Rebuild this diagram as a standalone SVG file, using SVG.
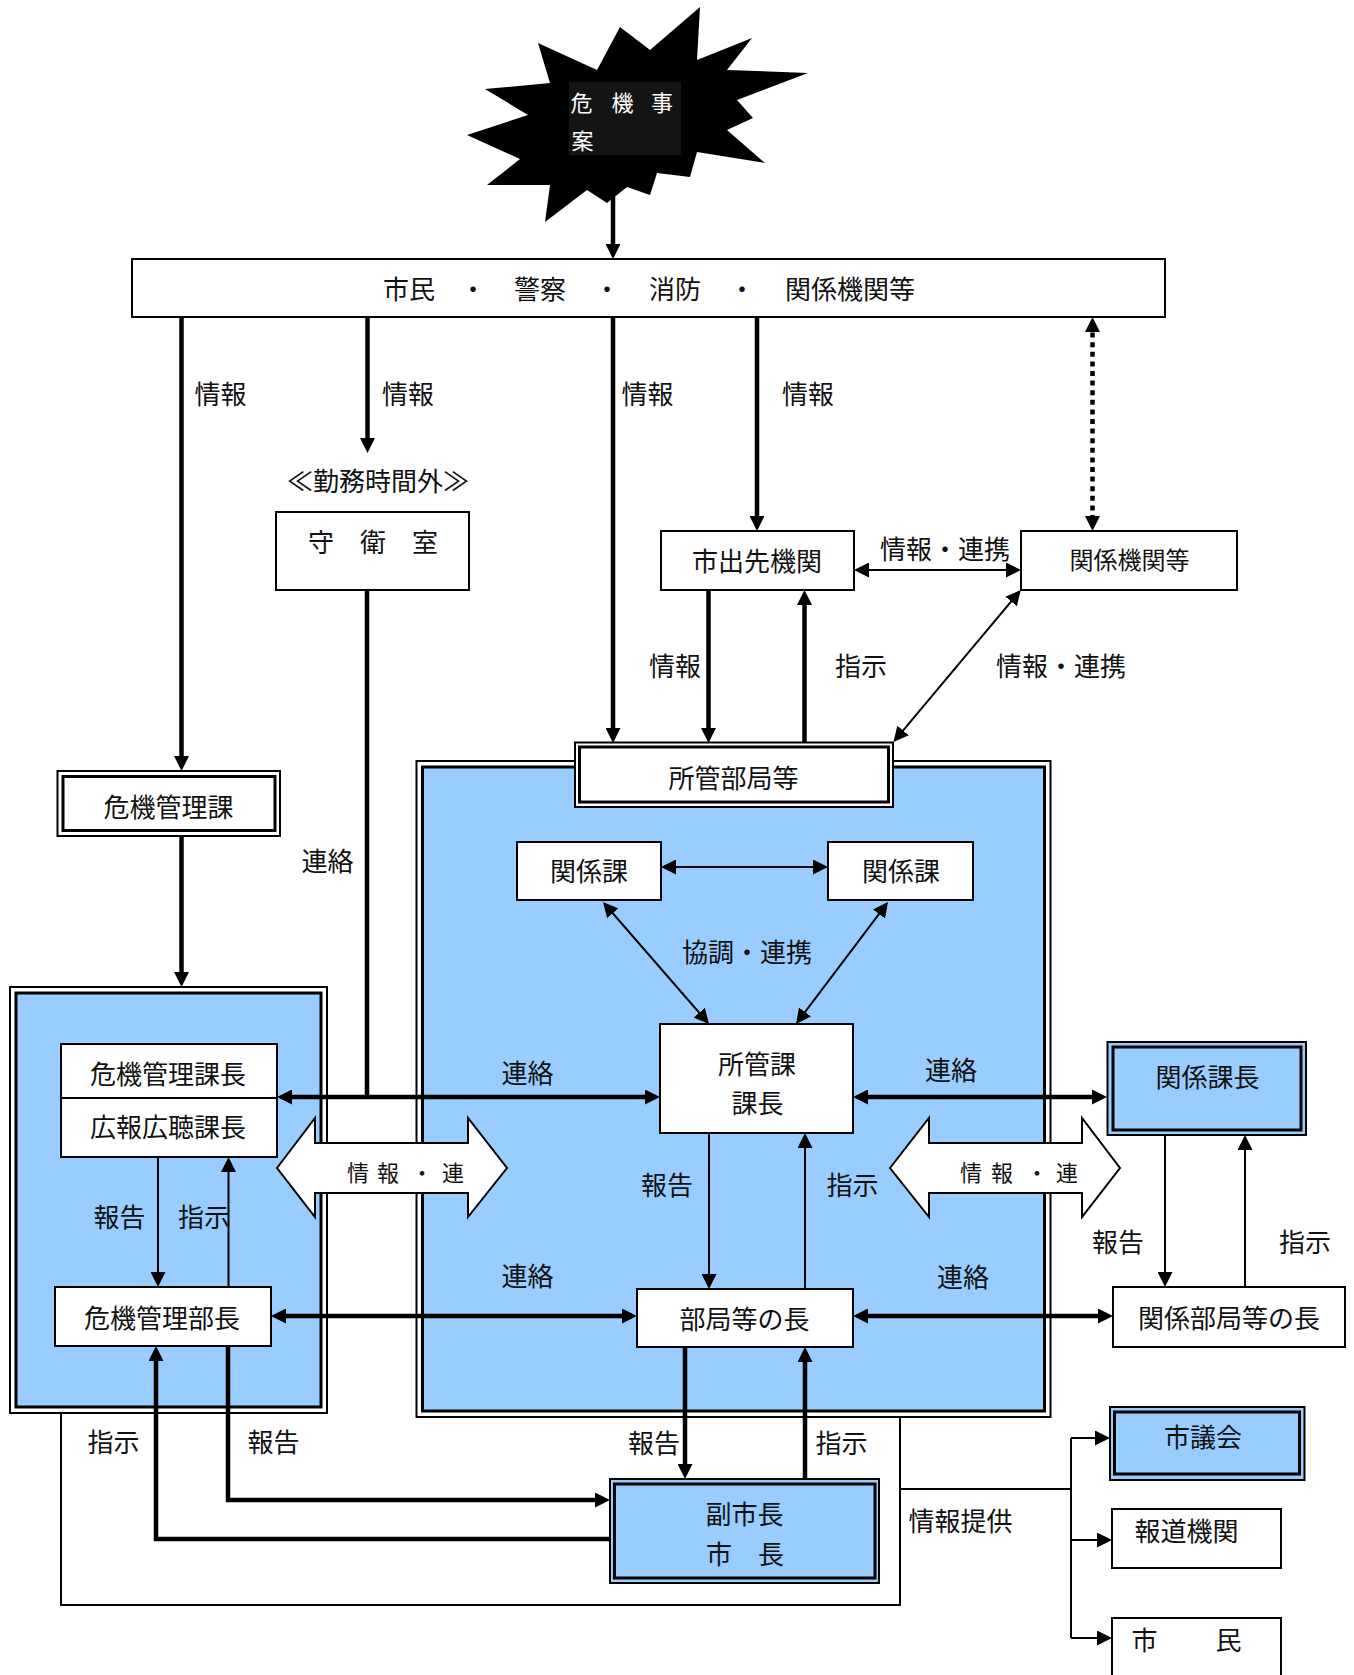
<svg xmlns="http://www.w3.org/2000/svg" width="1354" height="1675" viewBox="0 0 1354 1675">
<style>
.t{font-family:"Noto Sans CJK JP","Noto Sans",sans-serif;font-size:26px;fill:#111;text-anchor:middle;dominant-baseline:central;transform:translateY(-2.5px)}
.s{font-size:24px}
.b{font-size:22px}
.w{fill:#fff;font-size:22px}
.box{fill:#fff;stroke:#000;stroke-width:2}
.o{fill:#fff;stroke:#000;stroke-width:2}
.ib{fill:#99CCFF;stroke:#000;stroke-width:3}
.iw{fill:#fff;stroke:#000;stroke-width:3}
.ob{fill:#99CCFF;stroke:#000;stroke-width:2}
.k{fill:none;stroke:#000;stroke-width:4.5}
.n{fill:none;stroke:#000;stroke-width:2}
.ba{fill:#fff;stroke:#000;stroke-width:2}
</style>
<defs>
<marker id="ah" viewBox="0 0 15 15" refX="9" refY="7.5" markerWidth="15" markerHeight="15" markerUnits="userSpaceOnUse" orient="auto-start-reverse"><path d="M0,0 L15,7.5 L0,15 z" fill="#000"/></marker>
</defs>

<!-- frames -->
<g id="frame-left">
<rect class="o" x="10" y="987" width="317" height="426"/>
<rect class="ib" x="16" y="993" width="305" height="414" stroke-width="2.5"/>
</g>
<g id="frame-center">
<rect class="o" x="416.5" y="761" width="634" height="656"/>
<rect class="ib" x="422.5" y="767" width="622" height="644" stroke-width="2.5"/>
</g>

<!-- crisis starburst -->
<g id="crisis">
<polygon fill="#000" points="700,7 697,60 752,38 727,70 808,73 737,100 753,118 727,130 765,163 697,152 690,177 657,173 650,195 627,187 607,203 587,190 545,222 550,185 487,185 520,159 467,135 528,115 485,89 550,83 538,43 597,70 620,27 650,50"/>
<rect x="569" y="82" width="112" height="73" fill="#141414"/>
<text class="t w" x="581.5" y="103">危</text>
<text class="t w" x="622.5" y="103">機</text>
<text class="t w" x="662" y="103">事</text>
<text class="t w" x="582.5" y="141">案</text>
</g>

<g id="top-bar">
<rect class="box" x="132" y="259" width="1033" height="58"/>
<text class="t" x="409" y="290">市民</text>
<text class="t" x="473" y="290">・</text>
<text class="t" x="540" y="290">警察</text>
<text class="t" x="607" y="290">・</text>
<text class="t" x="675" y="290">消防</text>
<text class="t" x="742" y="290">・</text>
<text class="t" x="850" y="290">関係機関等</text>
</g>

<g id="off-hours">
<text class="t" x="378" y="481.5">≪勤務時間外≫</text>
</g>
<g id="guard-room">
<rect class="box" x="276" y="512" width="193" height="78"/>
<text class="t" x="373" y="543">守　衛　室</text>
</g>
<g id="branch-office">
<rect class="box" x="661" y="531" width="193" height="59"/>
<text class="t" x="757" y="561.5">市出先機関</text>
</g>
<g id="related-agencies">
<rect class="box" x="1021" y="531" width="216" height="59"/>
<text class="t s" x="1129.5" y="561">関係機関等</text>
</g>
<g id="crisis-section">
<rect class="o" x="57.5" y="771" width="222.5" height="65"/>
<rect class="iw" x="63" y="776.5" width="212" height="54"/>
<text class="t" x="168.5" y="808">危機管理課</text>
</g>
<g id="dept">
<rect class="o" x="575" y="742.5" width="318" height="64.5"/>
<rect class="iw" x="579.5" y="747" width="309" height="55"/>
<text class="t" x="733.5" y="779">所管部局等</text>
</g>
<g id="rel-section-left">
<rect class="box" x="517" y="842" width="144" height="58"/>
<text class="t" x="589" y="871.5">関係課</text>
</g>
<g id="rel-section-right">
<rect class="box" x="828" y="842" width="145" height="58"/>
<text class="t" x="901" y="871.5">関係課</text>
</g>
<g id="section-chief">
<rect class="box" x="660" y="1024" width="193" height="109"/>
<text class="t" x="757" y="1065">所管課</text>
<text class="t" x="757.5" y="1103.5">課長</text>
</g>
<g id="crisis-chiefs">
<rect class="box" x="61" y="1044" width="216" height="113"/>
<line x1="61" y1="1098" x2="277" y2="1098" stroke="#000" stroke-width="2"/>
<text class="t" x="168" y="1074.5">危機管理課長</text>
<text class="t" x="168" y="1128">広報広聴課長</text>
</g>
<g id="rel-chief">
<rect class="ob" x="1107.5" y="1042" width="198.5" height="93"/>
<rect class="ib" x="1113" y="1047" width="188" height="83"/>
<text class="t" x="1207.5" y="1078">関係課長</text>
</g>
<g id="crisis-director">
<rect class="box" x="55" y="1287" width="216" height="59"/>
<text class="t" x="162" y="1318.5">危機管理部長</text>
</g>
<g id="dept-head">
<rect class="box" x="637" y="1289" width="216" height="58"/>
<text class="t" x="744.5" y="1320">部局等の長</text>
</g>
<g id="rel-dept-head">
<rect class="box" x="1113" y="1287" width="232" height="60"/>
<text class="t" x="1229" y="1319">関係部局等の長</text>
</g>
<g id="mayor">
<rect class="ob" x="610" y="1479" width="269" height="104"/>
<rect class="ib" x="614.5" y="1484" width="260.5" height="94"/>
<text class="t" x="744.5" y="1515">副市長</text>
<text class="t" x="706" y="1555" style="text-anchor:start">市　長</text>
</g>
<g id="council">
<rect class="ob" x="1110" y="1407" width="194.5" height="73"/>
<rect class="ib" x="1114.5" y="1412" width="185" height="62"/>
<text class="t" x="1203" y="1437.5">市議会</text>
</g>
<g id="press">
<rect class="box" x="1112" y="1509" width="169" height="59"/>
<text class="t" x="1186.5" y="1531.5">報道機関</text>
</g>
<g id="citizens">
<rect class="box" x="1112" y="1618" width="169" height="70"/>
<text class="t" x="1144.5" y="1641">市</text>
<text class="t" x="1228.5" y="1641">民</text>
</g>

<!-- connectors -->
<g id="connectors">
<path class="k" d="M613 195 V253" marker-end="url(#ah)"/>
<path class="k" d="M181.5 317 V765" marker-end="url(#ah)"/>
<path class="k" d="M367.5 317 V447" marker-end="url(#ah)"/>
<path class="k" d="M613 317 V737" marker-end="url(#ah)"/>
<path class="k" d="M757 317 V525" marker-end="url(#ah)"/>
<path d="M1092.5 323 V525" fill="none" stroke="#000" stroke-width="4.5" stroke-dasharray="5 4.6" marker-start="url(#ah)" marker-end="url(#ah)"/>
<path class="n" d="M860 570 H1015" stroke-width="2.5" marker-start="url(#ah)" marker-end="url(#ah)"/>
<path class="k" d="M708.5 590 V737" marker-end="url(#ah)"/>
<path class="k" d="M804.5 743 V596" marker-end="url(#ah)"/>
<path class="n" d="M1016.9 594.6 L897.3 737.4" marker-start="url(#ah)" marker-end="url(#ah)"/>
<path class="k" d="M367 590 V1097"/>
<path class="k" d="M181.5 836 V981" marker-end="url(#ah)"/>
<path class="n" d="M667 867 H822" marker-start="url(#ah)" marker-end="url(#ah)"/>
<path class="n" d="M606.9 906.5 L705.1 1019.5" marker-start="url(#ah)" marker-end="url(#ah)"/>
<path class="n" d="M884.4 906.8 L799.6 1019.2" marker-start="url(#ah)" marker-end="url(#ah)"/>
<path class="k" d="M283 1097 H654" marker-start="url(#ah)" marker-end="url(#ah)"/>
<path class="k" d="M859 1097 H1101" marker-start="url(#ah)" marker-end="url(#ah)"/>
<path class="n" d="M709 1133 V1283" marker-end="url(#ah)"/>
<path class="n" d="M805 1289 V1139" marker-end="url(#ah)"/>
<path class="n" d="M1165 1135 V1281" marker-end="url(#ah)"/>
<path class="n" d="M1245 1287 V1141" marker-end="url(#ah)"/>
<path class="n" d="M158 1157 V1281" marker-end="url(#ah)"/>
<path class="n" d="M228.5 1287 V1163" marker-end="url(#ah)"/>
<path class="k" d="M277 1316 H631" marker-start="url(#ah)" marker-end="url(#ah)"/>
<path class="k" d="M859 1316 H1107" marker-start="url(#ah)" marker-end="url(#ah)"/>
<path class="k" d="M685 1347 V1473" marker-end="url(#ah)"/>
<path class="k" d="M805 1479 V1353" marker-end="url(#ah)"/>
<path class="k" d="M228 1346 V1500 H604" marker-end="url(#ah)"/>
<path class="k" d="M610 1539 H156 V1352" marker-end="url(#ah)"/>
<path class="n" d="M61 1413 V1605 H900 V1417"/>
<path class="n" d="M900 1489 H1071"/>
<path class="n" d="M1071 1438 V1638"/>
<path class="n" d="M1071 1438 H1104" marker-end="url(#ah)"/>
<path class="n" d="M1071 1540 H1106" marker-end="url(#ah)"/>
<path class="n" d="M1071 1638 H1106" marker-end="url(#ah)"/>
</g>

<!-- block arrows -->
<g id="block-arrow-left">
<polygon class="ba" points="277,1168 315,1118 315,1143 468,1143 468,1118 507,1168 468,1217 468,1193 315,1193 315,1217"/>
<text class="t b" x="358" y="1173">情</text>
<text class="t b" x="388" y="1173">報</text>
<text class="t b" x="422" y="1173">・</text>
<text class="t b" x="453" y="1173">連</text>
</g>
<g id="block-arrow-right">
<polygon class="ba" points="890,1168 929,1118 929,1143 1082,1143 1082,1118 1120,1168 1082,1217 1082,1193 929,1193 929,1217"/>
<text class="t b" x="971" y="1173">情</text>
<text class="t b" x="1002" y="1173">報</text>
<text class="t b" x="1037" y="1173">・</text>
<text class="t b" x="1067" y="1173">連</text>
</g>

<!-- labels -->
<g id="labels">
<text class="t" x="220.5" y="395">情報</text>
<text class="t" x="408" y="395">情報</text>
<text class="t" x="647.5" y="395">情報</text>
<text class="t" x="808" y="395">情報</text>
<text class="t" x="945" y="550">情報・連携</text>
<text class="t" x="675" y="667">情報</text>
<text class="t" x="861" y="667">指示</text>
<text class="t" x="1061" y="667">情報・連携</text>
<text class="t" x="327.5" y="862">連絡</text>
<text class="t" x="747" y="953">協調・連携</text>
<text class="t" x="527.5" y="1073.5">連絡</text>
<text class="t" x="951" y="1071">連絡</text>
<text class="t" x="119.5" y="1218">報告</text>
<text class="t" x="204" y="1218">指示</text>
<text class="t" x="667" y="1186">報告</text>
<text class="t" x="852.5" y="1186">指示</text>
<text class="t" x="1118" y="1243">報告</text>
<text class="t" x="1305" y="1243">指示</text>
<text class="t" x="527.5" y="1277">連絡</text>
<text class="t" x="963" y="1278">連絡</text>
<text class="t" x="113.5" y="1442.5">指示</text>
<text class="t" x="273.5" y="1442.5">報告</text>
<text class="t" x="654" y="1444">報告</text>
<text class="t" x="841.5" y="1444">指示</text>
<text class="t" x="960.5" y="1521.5">情報提供</text>
</g>
</svg>
